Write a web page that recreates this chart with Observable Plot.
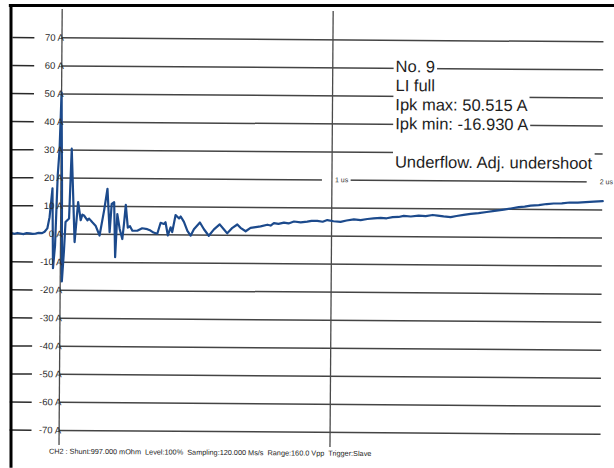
<!DOCTYPE html>
<html>
<head>
<meta charset="utf-8">
<script src="https://cdn.jsdelivr.net/npm/d3@7"></script>
<script src="https://cdn.jsdelivr.net/npm/@observablehq/plot@0.6"></script>
<style>
  html, body { margin: 0; padding: 0; background: #fff; }
  svg { display: block; }
</style>
</head>
<body>
<script>
// Shunt current capture, CH2 — time in microseconds, current in amperes
const timeUs = [
  -0.181, -0.170, -0.159, -0.148, -0.137, -0.125, -0.114, -0.103, -0.092, -0.081,
  -0.068, -0.059, -0.049, -0.041, -0.031, -0.027, -0.020, -0.012, -0.006, 0.000,
  0.004, 0.006, 0.013, 0.018, 0.031, 0.039, 0.052, 0.064, 0.074, 0.080,
  0.086, 0.099, 0.105, 0.117, 0.129, 0.144, 0.160, 0.172, 0.181, 0.188,
  0.197, 0.202, 0.209, 0.218, 0.228, 0.234, 0.240, 0.248, 0.256, 0.265,
  0.283, 0.301, 0.320, 0.332, 0.343, 0.357, 0.369, 0.381, 0.387, 0.396,
  0.406, 0.412, 0.424, 0.437, 0.443, 0.455, 0.468, 0.480, 0.492, 0.514,
  0.529, 0.547, 0.566, 0.587, 0.603, 0.615, 0.634, 0.652, 0.664, 0.683,
  0.701, 0.720, 0.738, 0.763, 0.775, 0.787, 0.804, 0.824, 0.841, 0.861,
  0.886, 0.910, 0.926, 0.947, 0.967, 0.984, 1.007, 1.033, 1.055, 1.082,
  1.107, 1.132, 1.155, 1.181, 1.203, 1.225, 1.247, 1.266, 1.292, 1.321,
  1.347, 1.373, 1.391, 1.413, 1.439, 1.461, 1.487, 1.513, 1.542, 1.572,
  1.601, 1.635, 1.661, 1.690, 1.712, 1.734, 1.764, 1.793, 1.819, 1.849,
  1.878, 1.908, 1.937, 1.967, 2.000
];
const currentA = [
  0.2, 0.0, 0.3, 0.1, -0.1, 0.3, 0.2, 0.0, 0.1, 0.4,
  0.3, 0.8, 2.0, 6.0, 16.3, -12.2, -4.0, 21.0, 30.0, 50.5,
  18.0, -16.9, -6.0, 4.3, 5.6, 30.5, -2.8, 11.5, 5.0, 7.0,
  6.7, 5.0, 5.6, 4.3, 3.1, -0.4, 8.5, 16.3, 0.8, 10.9,
  11.5, -8.1, 7.3, 2.0, -1.6, 4.0, 10.6, 2.5, 3.0, 1.4,
  1.4, 2.3, 2.0, 1.5, 0.8, 0.4, 4.3, 3.9, 4.5, -0.2,
  2.7, 1.0, 7.1, 5.9, 6.6, 4.7, 1.5, -0.2, 2.1, 4.5,
  2.1, -0.2, 2.1, 3.9, 2.1, 0.7, 2.7, 3.9, 2.7, 1.5,
  2.7, 3.0, 3.3, 3.9, 3.6, 4.5, 4.2, 4.7, 4.4, 5.1,
  4.8, 5.1, 5.4, 5.4, 5.1, 5.7, 5.3, 5.1, 5.6, 6.0,
  5.8, 6.2, 6.4, 6.6, 6.5, 6.9, 7.0, 7.4, 7.2, 7.5,
  7.4, 7.8, 7.6, 7.3, 7.1, 7.5, 7.9, 8.3, 8.6, 9.0,
  9.4, 9.9, 10.3, 10.8, 11.0, 11.4, 11.6, 12.0, 12.2, 12.3,
  12.6, 12.6, 12.8, 13.0, 13.2
];

// Scope grid: 10 A per division, time divisions of 1 us
const currentTicks = [70, 60, 50, 40, 30, 20, 10, 0, -10, -20, -30, -40, -50, -60, -70];
const timeTicks = [1, 2];
const timeTickLabels = ["1 us", "2 us"];

const noteLines = [
  "No. 9",
  "LI full",
  "Ipk max: 50.515 A",
  "Ipk min: -16.930 A",
  "",
  "Underflow. Adj. undershoot"
];
const footerText = "CH2 : Shunt:997.000 mOhm  Level:100%  Sampling:120.000 Ms/s  Range:160.0 Vpp  Trigger:Slave";

const trace = timeUs.map((t, i) => ({t, a: currentA[i]}));
const timeLabelRows = timeTicks.map((t, i) => ({t, label: timeTickLabels[i]}));

// Visible extents of the sheet
const T_MIN = -0.181, T_MAX = 2.0;
const A_MIN = -75.4, A_MAX = 80.1;
const gridColor = "#444";

const svg = Plot.plot({
  width: 614,
  height: 468,
  marginLeft: 11,
  marginRight: 12,
  marginTop: 11,
  marginBottom: 21,
  x: {domain: [T_MIN, T_MAX], axis: null},
  y: {domain: [A_MIN, A_MAX], axis: null},
  style: {
    fontFamily: "'Liberation Sans', Arial, sans-serif",
    background: "#fff",
    overflow: "visible"
  },
  marks: [
    // horizontal divisions, with a short stub left of the labels
    Plot.ruleY(currentTicks, {x1: 0, x2: T_MAX, stroke: gridColor, strokeWidth: 1.5}),
    Plot.ruleY(currentTicks, {x1: T_MIN, x2: -0.100, stroke: "#2a2a2a", strokeWidth: 1.5}),
    // time labels sit on the 20 A division
    Plot.text(timeLabelRows.slice(0, 1), {
      x: "t", y: 20, text: "label", textAnchor: "start", dx: 3, fontSize: 7, fill: "#333"
    }),
    Plot.text(timeLabelRows.slice(1), {
      x: "t", y: 20, text: "label", textAnchor: "end", dx: 10, fontSize: 7, fill: "#333"
    }),
    // vertical divisions at 0 and 1 us
    Plot.ruleX([0, 1], {stroke: "#4a4a4a", strokeWidth: 1.3}),
    // current trace
    Plot.line(trace, {
      x: "t", y: "a", stroke: "#1c4a8c", strokeWidth: 2.2,
      strokeLinejoin: "round", strokeLinecap: "round"
    }),
    // measurement note
    Plot.text([noteLines.join("\n")], {
      x: 1.232, y: 43.85, textAnchor: "start", lineAnchor: "middle",
      lineHeight: 1.158, fontSize: 16.5, fill: "#1e1e1e"
    }),
    // current labels
    Plot.text(currentTicks, {
      x: 0, y: d => d, text: d => `${d} A`,
      textAnchor: "end", dx: 2, fontSize: 9.5, fill: "#2a2a2a"
    }),
    // acquisition settings
    Plot.text([footerText], {
      x: -0.037, y: -77.5, textAnchor: "start", fontSize: 7.3, fill: "#222"
    }),
    // sheet border, top and left
    Plot.ruleX([T_MIN], {y1: -82.8, y2: 82.6, dx: -0.5, stroke: "#000", strokeWidth: 3, className: "sheet-border"}),
    Plot.ruleY([82.2], {x1: T_MIN - 0.008, x2: 2.05, stroke: "#000", strokeWidth: 3, className: "sheet-border"})
  ]
});

document.body.append(svg);

// White boxes behind labels so the grid stops at the text
function maskText(textEl, padL, padR, padT, padB) {
  const parts = [...textEl.querySelectorAll("tspan")];
  const items = parts.length ? parts : [textEl];
  for (const p of items) {
    if (!p.textContent.trim()) continue;
    const b = p.getBBox();
    const r = document.createElementNS("http://www.w3.org/2000/svg", "rect");
    r.setAttribute("x", b.x - padL);
    r.setAttribute("y", b.y - padT);
    r.setAttribute("width", b.width + padL + padR);
    r.setAttribute("height", b.height + padT + padB);
    r.setAttribute("fill", "#fff");
    const tr = textEl.getAttribute("transform");
    if (tr) r.setAttribute("transform", tr);
    textEl.parentNode.insertBefore(r, textEl);
  }
}
const notes = noteLines.filter(s => s);
for (const t of svg.querySelectorAll("text")) {
  const s = t.textContent;
  if (notes.some(n => s.includes(n))) maskText(t, 2, 2, 2, 1);
  else if (timeTickLabels.includes(s)) maskText(t, 13, 2, 1, 1);
}

// The printed grid sits slightly tilted on the sheet; the border does not
const ns = "http://www.w3.org/2000/svg";
const tilt = document.createElementNS(ns, "g");
tilt.setAttribute("transform", "rotate(0.42 330 235.7)");
const groups = [...svg.children].filter(el => el.tagName.toLowerCase() === "g");
let borders = groups.filter(g => g.classList.contains("sheet-border"));
if (!borders.length) borders = groups.slice(-2);
const firstBorder = borders[0];
for (const g of groups) if (!borders.includes(g)) tilt.appendChild(g);
svg.insertBefore(tilt, firstBorder);
</script>
</body>
</html>
